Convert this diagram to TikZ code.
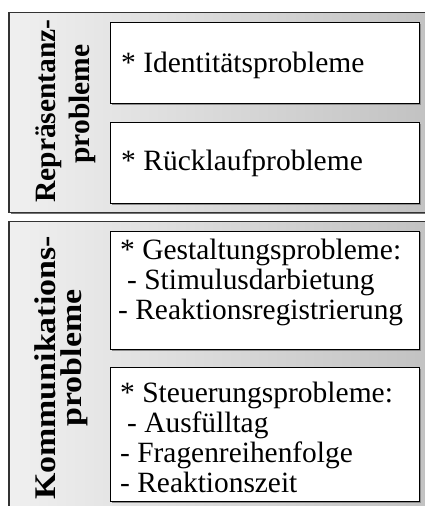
\documentclass[tikz,border=0pt]{standalone}
\usepackage{fontspec}
\setmainfont{Liberation Serif}
\begin{document}
\begin{tikzpicture}[x=1pt,y=-1pt,
  panel/.style={draw=black!80,line width=1.1pt,left color=black!6,right color=black!24},
  panelshadow/.style={fill=black!55,draw=none},
  itembox/.style={draw=black,line width=0.9pt,fill=white},
  boxshadow/.style={fill=black!45,draw=none},
  itemtext/.style={anchor=base west,inner sep=0pt,font=\fontsize{29.5}{30}\selectfont},
  subtext/.style={anchor=base west,inner sep=0pt,font=\fontsize{29.4}{30}\selectfont},
  sidelabel/.style={anchor=base,rotate=90,inner sep=0pt,font=\fontsize{29.5}{30}\selectfont\bfseries},
  widelabel/.style={sidelabel,font=\fontsize{30}{30}\selectfont\bfseries\addfontfeature{FakeStretch=1.13}}]
\useasboundingbox (0,0) rectangle (424,506);

% two shaded panels, cut off at the right and bottom
\fill[panelshadow] (10.5,14) rectangle (430,214);
\path[panel] (9,12.5) rectangle (430,212.5);
\fill[panelshadow] (10.5,223.2) rectangle (430,520);
\path[panel] (9,221.7) rectangle (430,520);

% item boxes with a small drop shadow
\fill[boxshadow] (111.5,23.5) rectangle (420.5,104.8);
\node[itembox,minimum width=309pt,minimum height=81.3pt,anchor=north west,inner sep=0pt] (b1) at (110,22) {};
\fill[boxshadow] (111.5,123.8) rectangle (420.5,204.8);
\node[itembox,minimum width=309pt,minimum height=81pt,anchor=north west,inner sep=0pt] (b2) at (110,122.3) {};
\fill[boxshadow] (111.5,232.2) rectangle (420.5,350.5);
\node[itembox,minimum width=309pt,minimum height=118.3pt,anchor=north west,inner sep=0pt] (b3) at (110,230.7) {};
\fill[boxshadow] (111.5,368.5) rectangle (420.5,502.5);
\node[itembox,minimum width=309pt,minimum height=134pt,anchor=north west,inner sep=0pt] (b4) at (110,367) {};

% side labels
\node[sidelabel] (rep1) at (55,111) {Repräsentanz-};
\node[sidelabel] (rep2) at (89,104) {probleme};
\node[widelabel] (kom1) at (55,368) {Kommunikations-};
\node[widelabel] (kom2) at (81,358) {probleme};

% box texts
\node[itemtext] (t1) at (121,72) {* Identitätsprobleme};
\node[itemtext] (t2) at (121,170) {* Rücklaufprobleme};
\node[itemtext] (t3) at (120,259) {* Gestaltungsprobleme:};
\node[subtext] (t3a) at (127,289) {- Stimulusdarbietung};
\node[subtext] (t3b) at (118,319) {- Reaktionsregistrierung};
\node[itemtext] (t4) at (120,402) {* Steuerungsprobleme:};
\node[subtext] (t4a) at (127,432) {- Ausfülltag};
\node[subtext] (t4b) at (120,462) {- Fragenreihenfolge};
\node[subtext] (t4c) at (120,492) {- Reaktionszeit};
\end{tikzpicture}
\end{document}
